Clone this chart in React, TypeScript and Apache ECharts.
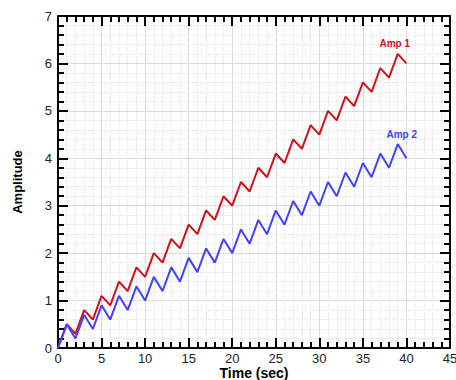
import React, { useEffect, useRef } from "react";
import * as echarts from "echarts";

const timeSec = [0,1,2,3,4,5,6,7,8,9,10,11,12,13,14,15,16,17,18,19,20,21,22,23,24,25,26,27,28,29,30,31,32,33,34,35,36,37,38,39,40];
const amp1 = [0,0.5,0.3,0.8,0.6,1.1,0.9,1.4,1.2,1.7,1.5,2.0,1.8,2.3,2.1,2.6,2.4,2.9,2.7,3.2,3.0,3.5,3.3,3.8,3.6,4.1,3.9,4.4,4.2,4.7,4.5,5.0,4.8,5.3,5.1,5.6,5.4,5.9,5.7,6.2,6.0];
const amp2 = [0,0.5,0.2,0.7,0.4,0.9,0.6,1.1,0.8,1.3,1.0,1.5,1.2,1.7,1.4,1.9,1.6,2.1,1.8,2.3,2.0,2.5,2.2,2.7,2.4,2.9,2.6,3.1,2.8,3.3,3.0,3.5,3.2,3.7,3.4,3.9,3.6,4.1,3.8,4.3,4.0];
const seriesNames = ["Amp 1", "Amp 2"];
const labelIndex = 39;

const FONT = "Liberation Sans, Arial, Helvetica, sans-serif";

export default function App() {
  const ref = useRef<HTMLDivElement>(null);
  useEffect(() => {
    document.body.style.margin = "0";
    const chart = echarts.init(ref.current!, null, { renderer: "svg" });
    const mark = (ys: number[], name: string, color: string, offset: number[]) => ({
      silent: true,
      animation: false,
      data: [
        {
          coord: [timeSec[labelIndex], ys[labelIndex]],
          symbol: "circle",
          symbolSize: 1,
          itemStyle: { color: "rgba(0,0,0,0)" },
          label: {
            show: true,
            position: "top",
            distance: 6,
            offset,
            formatter: name,
            color,
            fontWeight: "bold",
            fontSize: 10,
            fontFamily: FONT,
          },
        },
      ],
    });
    const ticks = (show: boolean) => ({
      axisLine: { show: true, onZero: false, lineStyle: { color: "#000", width: 2 } },
      axisTick: { show: true, inside: true, length: 10, lineStyle: { color: "#000", width: 2 } },
      minorTick: { show: true, splitNumber: 5, length: 6, lineStyle: { color: "#000", width: 2 } },
      axisLabel: { show, color: "#222", fontSize: 13, fontFamily: FONT },
    });
    chart.setOption({
      animation: false,
      backgroundColor: "#fff",
      grid: { left: 58, right: 6, top: 16, bottom: 32, containLabel: false, outerBoundsMode: "none" },
      xAxis: [
        {
          type: "value", min: 0, max: 45, interval: 5, position: "bottom",
          name: "Time (sec)", nameLocation: "middle", nameGap: 18, nameMoveOverlap: false,
          nameTextStyle: { fontWeight: "bold", fontSize: 14, lineHeight: 14, fontFamily: FONT, color: "#000" },
          ...ticks(true),
          axisLabel: { show: true, color: "#222", fontSize: 13, lineHeight: 13, fontFamily: FONT, margin: 4 },
          splitLine: { show: true, lineStyle: { color: "#dcdcdc", width: 1 } },
          minorSplitLine: { show: true, lineStyle: { color: "#e2e2e2", width: 1, type: "dotted" } },
        },
        {
          type: "value", min: 0, max: 45, interval: 5, position: "top",
          ...ticks(false),
          splitLine: { show: false },
        },
      ],
      yAxis: [
        {
          type: "value", min: 0, max: 7, interval: 1, position: "left",
          name: "Amplitude", nameLocation: "middle", nameGap: 34, nameMoveOverlap: false,
          nameTextStyle: { fontWeight: "bold", fontSize: 13, fontFamily: FONT, color: "#000" },
          ...ticks(true),
          axisLabel: { show: true, color: "#222", fontSize: 13, fontFamily: FONT, margin: 6 },
          splitLine: { show: true, lineStyle: { color: "#dcdcdc", width: 1 } },
          minorSplitLine: { show: true, lineStyle: { color: "#e2e2e2", width: 1, type: "dotted" } },
        },
        {
          type: "value", min: 0, max: 7, interval: 1, position: "right",
          ...ticks(false),
          splitLine: { show: false },
        },
      ],
      series: [
        {
          name: seriesNames[0], type: "line", showSymbol: false, symbol: "none",
          lineStyle: { color: "#d40f1a", width: 2 }, itemStyle: { color: "#d40f1a" },
          data: timeSec.map((t, i) => [t, amp1[i]]),
          markPoint: mark(amp1, seriesNames[0], "#d40f1a", [-3, 1]),
          z: 3,
        },
        {
          name: seriesNames[1], type: "line", showSymbol: false, symbol: "none",
          lineStyle: { color: "#4040ff", width: 2 }, itemStyle: { color: "#4040ff" },
          data: timeSec.map((t, i) => [t, amp2[i]]),
          markPoint: mark(amp2, seriesNames[1], "#4040ff", [4, 2]),
          z: 3,
        },
      ],
    });
    return () => chart.dispose();
  }, []);
  return (
    <div
      ref={ref}
      style={{ position: "fixed", left: 0, top: 0, width: 456, height: 380 }}
    />
  );
}
